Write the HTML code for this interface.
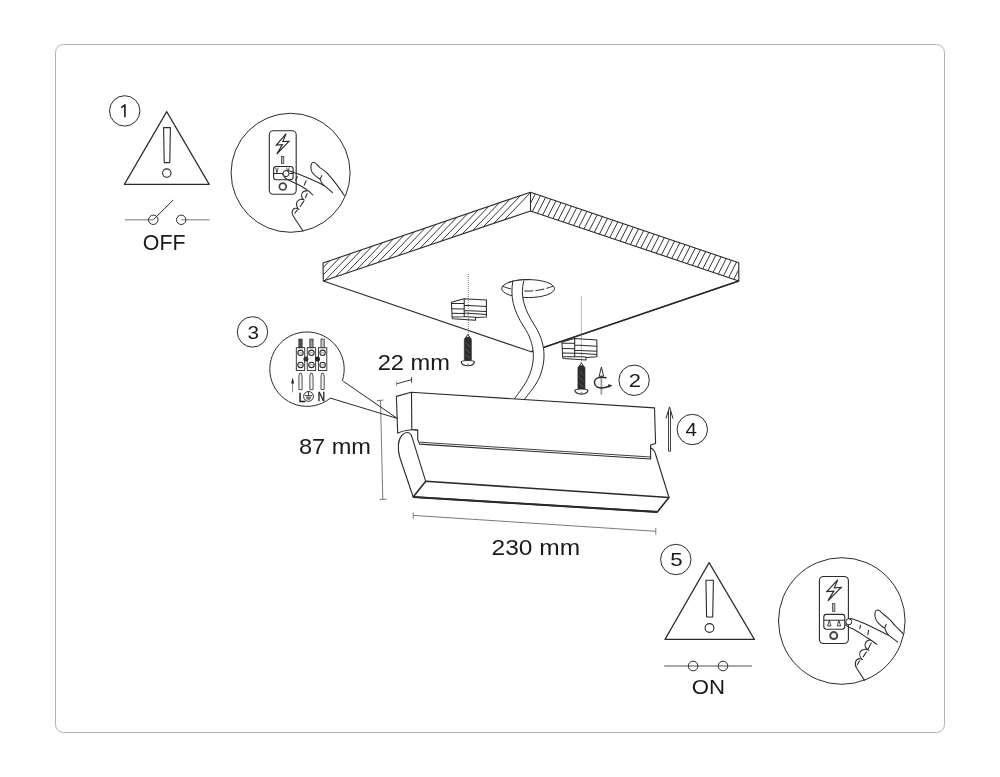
<!DOCTYPE html>
<html><head><meta charset="utf-8"><style>
html,body{margin:0;padding:0;background:#fff;}
svg{display:block;font-family:"Liberation Sans",sans-serif;will-change:transform;}
.t{stroke:none;}
</style></head><body>
<svg width="1000" height="777" viewBox="0 0 1000 777">
<rect width="1000" height="777" fill="#fff"/>
<rect x="55.5" y="44.5" width="889" height="688" rx="8" ry="8" fill="none" stroke="#b4b4b4" stroke-width="1"/>
<circle cx="124.7" cy="110.9" r="15.2" fill="none" stroke="#2a2a2a" stroke-width="1"/>
<path d="M124.9,117.3 L124.9,104.9 L121.2,107.6" fill="none" stroke="#1a1a1a" stroke-width="1.6" stroke-linejoin="round"/>
<circle cx="252.5" cy="331.9" r="15.2" fill="none" stroke="#2a2a2a" stroke-width="1"/>
<text x="253.2" y="338.5" text-anchor="middle" font-size="18.5" textLength="11.5" lengthAdjust="spacingAndGlyphs" fill="#1a1a1a" class="t">3</text>
<circle cx="634.1" cy="380.3" r="15.2" fill="none" stroke="#2a2a2a" stroke-width="1"/>
<text x="634.8" y="386.90000000000003" text-anchor="middle" font-size="18.5" textLength="12.2" lengthAdjust="spacingAndGlyphs" fill="#1a1a1a" class="t">2</text>
<circle cx="692.3" cy="429.5" r="15.2" fill="none" stroke="#2a2a2a" stroke-width="1"/>
<text x="691.2" y="436.1" text-anchor="middle" font-size="18.5" textLength="11.4" lengthAdjust="spacingAndGlyphs" fill="#1a1a1a" class="t">4</text>
<circle cx="675.8" cy="559.5" r="15.2" fill="none" stroke="#2a2a2a" stroke-width="1"/>
<text x="676.5" y="566.1" text-anchor="middle" font-size="18.5" textLength="12.4" lengthAdjust="spacingAndGlyphs" fill="#1a1a1a" class="t">5</text>
<path d="M166.7,111.6 L209.2,184.4 L124.4,184.4 Z" fill="none" stroke="#2a2a2a" stroke-width="1.2" stroke-linejoin="round"/>
<path d="M163.6,127.6 L170.4,127.6 L169.8,162.6 L164.2,162.6 Z" fill="none" stroke="#2a2a2a" stroke-width="1.1" stroke-linejoin="round"/>
<circle cx="166.8" cy="173.1" r="4.2" fill="none" stroke="#2a2a2a" stroke-width="1.1"/>
<path d="M709.1,562.6 L754.4,639.4 L665.0,639.4 Z" fill="none" stroke="#2a2a2a" stroke-width="1.2" stroke-linejoin="round"/>
<path d="M705.9,580.2 L713.4,580.2 L712.7,617.0 L706.6,617.0 Z" fill="none" stroke="#2a2a2a" stroke-width="1.1" stroke-linejoin="round"/>
<circle cx="709.5" cy="628.0" r="4.4" fill="none" stroke="#2a2a2a" stroke-width="1.1"/>
<line x1="125" y1="219.8" x2="153.3" y2="219.8" stroke="#8c8c8c" stroke-width="1.2"/>
<line x1="181.2" y1="219.8" x2="209.5" y2="219.8" stroke="#8c8c8c" stroke-width="1.2"/>
<line x1="153.3" y1="219.8" x2="173.2" y2="200" stroke="#2a2a2a" stroke-width="1"/>
<circle cx="153.3" cy="219.8" r="4.7" fill="none" stroke="#2a2a2a" stroke-width="1"/>
<circle cx="181.2" cy="219.8" r="4.7" fill="none" stroke="#2a2a2a" stroke-width="1"/>
<text x="142.8" y="249.5" font-size="21.5" textLength="42.7" lengthAdjust="spacingAndGlyphs" fill="#1a1a1a" class="t">OFF</text>
<line x1="664.2" y1="666" x2="752" y2="666" stroke="#8c8c8c" stroke-width="1.4"/>
<circle cx="693.1" cy="666" r="4.8" fill="none" stroke="#2a2a2a" stroke-width="1"/>
<circle cx="723" cy="666" r="4.8" fill="none" stroke="#2a2a2a" stroke-width="1"/>
<text x="691.8" y="694" font-size="20" textLength="33.3" lengthAdjust="spacingAndGlyphs" fill="#1a1a1a" class="t">ON</text>
<text x="377.7" y="369.8" font-size="22.3" textLength="72.2" lengthAdjust="spacingAndGlyphs" fill="#1a1a1a" class="t">22 mm</text>
<text x="298.9" y="454.1" font-size="22.3" textLength="72" lengthAdjust="spacingAndGlyphs" fill="#1a1a1a" class="t">87 mm</text>
<text x="491.6" y="554.8" font-size="22.3" textLength="88.5" lengthAdjust="spacingAndGlyphs" fill="#1a1a1a" class="t">230 mm</text>
<defs><clipPath id="cl"><path d="M323.0,263.0 L530.5,192.2 L530.5,211.0 L323.3,281.0 Z"/></clipPath><clipPath id="cr"><path d="M530.5,192.2 L738.8,262.8 L738.8,281.0 L530.5,211.0 Z"/></clipPath></defs>
<g clip-path="url(#cl)"><path d="M297.30,264.78 L247.30,316.78 M307.90,261.16 L257.90,313.16 M318.50,257.55 L268.50,309.55 M329.10,253.93 L279.10,305.93 M339.70,250.31 L289.70,302.31 M350.30,246.70 L300.30,298.70 M360.90,243.08 L310.90,295.08 M371.50,239.46 L321.50,291.46 M382.10,235.85 L332.10,287.85 M392.70,232.23 L342.70,284.23 M403.30,228.61 L353.30,280.61 M413.90,225.00 L363.90,277.00 M424.50,221.38 L374.50,273.38 M435.10,217.76 L385.10,269.76 M445.70,214.15 L395.70,266.15 M456.30,210.53 L406.30,262.53 M466.90,206.91 L416.90,258.91 M477.50,203.30 L427.50,255.30 M488.10,199.68 L438.10,251.68 M498.70,196.06 L448.70,248.06 M509.30,192.45 L459.30,244.45 M519.90,188.83 L469.90,240.83 M530.50,185.21 L480.50,237.21 M541.10,181.60 L491.10,233.60" stroke="#2a2a2a" stroke-width="0.95" fill="none"/></g>
<g clip-path="url(#cr)"><path d="M525.85,176.89 L499.85,227.59 M531.01,178.64 L505.01,229.34 M536.17,180.39 L510.17,231.09 M541.33,182.14 L515.33,232.84 M546.49,183.89 L520.49,234.59 M551.65,185.63 L525.65,236.33 M556.81,187.38 L530.81,238.08 M561.97,189.13 L535.97,239.83 M567.13,190.88 L541.13,241.58 M572.29,192.63 L546.29,243.33 M577.45,194.38 L551.45,245.08 M582.61,196.13 L556.61,246.83 M587.77,197.88 L561.77,248.58 M592.93,199.63 L566.93,250.33 M598.09,201.37 L572.09,252.07 M603.25,203.12 L577.25,253.82 M608.41,204.87 L582.41,255.57 M613.57,206.62 L587.57,257.32 M618.73,208.37 L592.73,259.07 M623.89,210.12 L597.89,260.82 M629.05,211.87 L603.05,262.57 M634.21,213.62 L608.21,264.32 M639.37,215.37 L613.37,266.07 M644.53,217.12 L618.53,267.82 M649.69,218.86 L623.69,269.56 M654.85,220.61 L628.85,271.31 M660.01,222.36 L634.01,273.06 M665.17,224.11 L639.17,274.81 M670.33,225.86 L644.33,276.56 M675.49,227.61 L649.49,278.31 M680.65,229.36 L654.65,280.06 M685.81,231.11 L659.81,281.81 M690.97,232.86 L664.97,283.56 M696.13,234.60 L670.13,285.30 M701.29,236.35 L675.29,287.05 M706.45,238.10 L680.45,288.80 M711.61,239.85 L685.61,290.55 M716.77,241.60 L690.77,292.30 M721.93,243.35 L695.93,294.05 M727.09,245.10 L701.09,295.80 M732.25,246.85 L706.25,297.55 M737.41,248.60 L711.41,299.30 M742.57,250.34 L716.57,301.04 M747.73,252.09 L721.73,302.79 M752.89,253.84 L726.89,304.54 M758.05,255.59 L732.05,306.29 M763.21,257.34 L737.21,308.04 M768.37,259.09 L742.37,309.79" stroke="#2a2a2a" stroke-width="0.95" fill="none"/></g>
<path d="M323.0,263.0 L530.5,192.2 L530.5,211.0 L323.3,281.0 Z" fill="none" stroke="#2a2a2a" stroke-width="1.1" stroke-linejoin="round"/>
<path d="M530.5,192.2 L738.8,262.8 L738.8,281.0 L530.5,211.0" fill="none" stroke="#2a2a2a" stroke-width="1.1" stroke-linejoin="round"/>
<path d="M323.3,281 L531,351.7 L738.8,281" fill="none" stroke="#2a2a2a" stroke-width="1.1"/>
<path d="M738.8,281 L531,351.7" fill="none" stroke="#2a2a2a" stroke-width="1.6"/>
<ellipse cx="528.1" cy="288.6" rx="26.4" ry="9" fill="#fff" stroke="#2a2a2a" stroke-width="1"/>
<path d="M502.5,286.2 Q527,296 553,286.2" fill="none" stroke="#2a2a2a" stroke-width="1" stroke-dasharray="9,2.2"/>
<path d="M513,280.6 C510,296 513,310 524,327 C536,345 535,362 529,376 C525,386 518,393 514.5,399 L524.7,399 C529,393 536,386 540,376 C546,360 546,344 535,326 C524,309 520,296 523.8,280.6 Z" fill="#fff" stroke="none"/>
<path d="M513,280.6 C510,296 513,310 524,327 C536,345 535,362 529,376 C525,386 518,393 514.5,399" fill="none" stroke="#2a2a2a" stroke-width="1"/>
<path d="M523.8,280.6 C520,296 524,309 535,326 C546,344 546,360 540,376 C536,386 529,393 524.7,399" fill="none" stroke="#2a2a2a" stroke-width="1"/>
<path d="M508,282.6 A26.4,9 0 0 1 530,279.6" fill="none" stroke="#2a2a2a" stroke-width="1"/>
<g stroke="#2a2a2a" stroke-width="1.05" stroke-linejoin="round"><path d="M451.4,302.2 L464,298.8 L486.4,300.1 L486.4,316.9 L475.5,317.6 L475.5,320.3 L452.8,318.8 L452.2,318 Z" fill="#fff"/><path d="M464.2,298.9 L464.2,316.7 M451.5,303.4 L464.2,303.3 M451.8,308.7 L464.2,308.9 M452,313.3 L464.2,313.4 M452.2,316.9 L464.2,316.8 M464.2,305.3 L486.4,306.4 M464.2,310.4 L486.4,311.4 M464.2,313.1 L486.4,314.6 M464.2,316.6 L475.5,317.3" fill="none"/></g>
<g transform="translate(110.5,39.8)" stroke="#2a2a2a" stroke-width="1.05" stroke-linejoin="round"><path d="M451.4,302.2 L464,298.8 L486.4,300.1 L486.4,316.9 L475.5,317.6 L475.5,320.3 L452.8,318.8 L452.2,318 Z" fill="#fff"/><path d="M464.2,298.9 L464.2,316.7 M451.5,303.4 L464.2,303.3 M451.8,308.7 L464.2,308.9 M452,313.3 L464.2,313.4 M452.2,316.9 L464.2,316.8 M464.2,305.3 L486.4,306.4 M464.2,310.4 L486.4,311.4 M464.2,313.1 L486.4,314.6 M464.2,316.6 L475.5,317.3" fill="none"/></g>
<line x1="468.3" y1="274" x2="468.3" y2="335" stroke="#555" stroke-width="0.8" stroke-dasharray="1,1"/>
<line x1="581.4" y1="296.4" x2="581.4" y2="363" stroke="#555" stroke-width="0.8" stroke-dasharray="1,1"/>
<path d="M464.3,360.6 L464.3,339.5 Q464.5,337.2 467.8,337 Q471.2,337.2 471.4,339.5 L471.4,360.6 Z" fill="#2e2e2e" stroke="#2a2a2a" stroke-width="0.6"/><path d="M466.2,343 L469.6,347 M466,349 L469.8,353 M466,355 L469.6,358.5" stroke="#666" stroke-width="0.8"/><path d="M465.9,337.3 L467.8,334.4 L469.7,337.3 Z" fill="#fff" stroke="#2a2a2a" stroke-width="0.9"/><path d="M461.2,361.8 C462,360.1 473.6,360.1 474.4,361.8 C474,364.6 470.6,365.7 467.8,365.7 C465,365.7 461.6,364.6 461.2,361.8 Z" fill="#fff" stroke="#2a2a2a" stroke-width="1.1"/><circle cx="467.9" cy="364.2" r="0.9" fill="#999"/>
<g transform="translate(113.6,28.4)"><path d="M464.3,360.6 L464.3,339.5 Q464.5,337.2 467.8,337 Q471.2,337.2 471.4,339.5 L471.4,360.6 Z" fill="#2e2e2e" stroke="#2a2a2a" stroke-width="0.6"/><path d="M466.2,343 L469.6,347 M466,349 L469.8,353 M466,355 L469.6,358.5" stroke="#666" stroke-width="0.8"/><path d="M465.9,337.3 L467.8,334.4 L469.7,337.3 Z" fill="#fff" stroke="#2a2a2a" stroke-width="0.9"/><path d="M461.2,361.8 C462,360.1 473.6,360.1 474.4,361.8 C474,364.6 470.6,365.7 467.8,365.7 C465,365.7 461.6,364.6 461.2,361.8 Z" fill="#fff" stroke="#2a2a2a" stroke-width="1.1"/><circle cx="467.9" cy="364.2" r="0.9" fill="#999"/></g>
<line x1="601.4" y1="373.5" x2="601.4" y2="394.5" stroke="#999" stroke-width="1.8"/>
<path d="M599.2,376.2 L601.4,367 L603.6,376.2 Z" fill="#fff" stroke="#2a2a2a" stroke-width="1"/>
<path d="M606.5,377.8 C603,377 599,376.8 596.5,378.5 C593.5,380.5 593.8,385 597,386.8 C600,388.5 605,388 609,386.3" fill="none" stroke="#2a2a2a" stroke-width="1.5"/>
<path d="M608,384.2 L612.4,385.2 L608.8,387.8 Z" fill="#2a2a2a"/>
<path d="M668.5,451.2 L668.5,411 M670.5,451.2 L670.5,411 M668.5,451.2 L670.5,451.2" fill="none" stroke="#2a2a2a" stroke-width="0.9"/>
<path d="M666,418.5 L669.5,406.9 L673,418.5" fill="none" stroke="#2a2a2a" stroke-width="1"/>
<path d="M409.3,432.9 C404,431 399,437 398.4,444.5 C398,450 399,455 400,458 L413.2,497 L657.3,511.9 L669,497.5 L652.1,448 L412.5,438.7 Z" fill="#fff" stroke="none"/>
<path d="M409.3,432.9 C404,431 399,437 398.4,444.5 C398,450 399,455 400,458 L413.2,497" fill="none" stroke="#2a2a2a" stroke-width="1.1"/>
<path d="M409.3,432.9 C411,434 412,436 412.5,438.7 L425.7,481.3" fill="none" stroke="#2a2a2a" stroke-width="1.1"/>
<path d="M650.6,447.7 C653,449 655,451.5 655.5,454 L669,497.5" fill="none" stroke="#2a2a2a" stroke-width="1.1"/>
<path d="M425.7,481.3 L669,497.5 L657.3,511.9 L413.2,497 Z" fill="none" stroke="#2a2a2a" stroke-width="1.6" stroke-linejoin="round"/>
<path d="M413.2,497 L657.3,511.9" fill="none" stroke="#2a2a2a" stroke-width="2"/>
<path d="M396.4,396.4 L411.2,392.3 L654.5,407.9 L655.6,443.5 L650.6,445.1 L650.6,459 L419.6,444.1 L417.7,439.3 L417.7,429.7 L412.2,429.7 C407,430 402,431 397.7,433.2 Z" fill="#fff" stroke="#2a2a2a" stroke-width="1.1" stroke-linejoin="round"/>
<line x1="411.5" y1="392.4" x2="411.8" y2="429.7" stroke="#2a2a2a" stroke-width="1.1"/>
<path d="M419.6,442.2 L650.6,457" fill="none" stroke="#2a2a2a" stroke-width="0.9"/>
<path d="M412.2,429.7 C416,430 417.7,431 417.7,431" fill="none" stroke="#2a2a2a" stroke-width="0.8"/>
<path d="M380.5,400.4 L382.8,499.4 M376.8,400.9 L383.4,400 M379.8,499.5 L386.6,499.2" fill="none" stroke="#7a7a7a" stroke-width="1"/>
<path d="M413.2,515.4 L655.8,531.3 M413.2,512.5 L413.2,518.8 M655.8,527.8 L655.8,534.5" fill="none" stroke="#7a7a7a" stroke-width="1"/>
<path d="M396.6,383.8 L411.6,379.6 M411.6,377.2 L411.6,382.6" fill="none" stroke="#3a3a3a" stroke-width="1"/>
<path d="M396.6,381.2 L396.6,386.2" fill="none" stroke="#999" stroke-width="1"/>
<path d="M342.3,380.9 A37.2,37.2 0 1 0 330,398.4" fill="none" stroke="#2a2a2a" stroke-width="1"/>
<path d="M343.2,381.2 L397.2,418.4 L330,398" fill="none" stroke="#2a2a2a" stroke-width="1"/>
<circle cx="290.6" cy="172.8" r="59.5" fill="none" stroke="#2a2a2a" stroke-width="1"/>
<rect x="269.3" y="130.8" width="26.9" height="63.5" rx="4" fill="none" stroke="#2a2a2a" stroke-width="1.1"/>
<path d="M286.2,133.6 L276.3,145.1 L282.4,144.6 L276.8,154.1 L288.9,141.3 L282.8,141.6 Z" fill="none" stroke="#2a2a2a" stroke-width="1.15" stroke-linejoin="miter"/>
<rect x="281.4" y="156.5" width="2.4" height="7" fill="#bbb" stroke="#2a2a2a" stroke-width="0.7"/>
<rect x="273.6" y="166.5" width="19.5" height="13.3" rx="2.5" fill="none" stroke="#2a2a2a" stroke-width="1.1"/>
<line x1="273.6" y1="173.5" x2="293.1" y2="173.5" stroke="#2a2a2a" stroke-width="1"/>
<path d="M275.6,167.5 L276.9,172.8 L278.2,167.5 M286.6,167.5 L287.9,172.8 L289.2,167.5" fill="none" stroke="#2a2a2a" stroke-width="0.8"/>
<circle cx="282.8" cy="186.5" r="3.45" fill="none" stroke="#444" stroke-width="1.7"/>
<path d="M283,174.5 C283.5,171 286,169.8 289,170.7 L294,172.6 C298,174 301.5,175.3 305,176.7 C311,179.3 318,182.3 324.4,185.7 L332.5,192.6" fill="none" stroke="#2a2a2a" stroke-width="1.05" stroke-linecap="round" stroke-linejoin="round"/>
<path d="M283,174.5 C284,177.5 286,179 289,180.3 L298.5,184.8 C303.5,187.3 308.5,190.5 312.8,195" fill="none" stroke="#2a2a2a" stroke-width="1.05" stroke-linecap="round" stroke-linejoin="round"/>
<circle cx="286" cy="173.6" r="3" fill="#fff" stroke="#2a2a2a" stroke-width="1"/>
<path d="M297.4,176.6 L295.6,180.2 M306.1,180.8 L304.3,185" fill="none" stroke="#2a2a2a" stroke-width="1.05" stroke-linecap="round" stroke-linejoin="round" stroke-width="1.3"/>
<path d="M344.4,195.5 C341,190.5 337.5,185.5 334,181.1 C331,177.5 328.5,174.5 326.4,172.4 C323.5,169.8 321.5,168.5 319.5,167.4 C317.5,165.5 316.5,163.8 315.4,163.1 C314,162 312.3,162.3 311.6,163.5 C310.6,165.5 310.8,168 311.1,169.5 C311.5,171.5 312,172.5 313.1,173.5 C314.5,175.2 316.5,177 319.8,179" fill="none" stroke="#2a2a2a" stroke-width="1.05" stroke-linecap="round" stroke-linejoin="round"/>
<path d="M321.8,175.6 L320.1,179.3 C321,181 321.5,182.8 322.4,184 C323,185 323.7,185.3 324.4,185.7" fill="none" stroke="#2a2a2a" stroke-width="1.05" stroke-linecap="round" stroke-linejoin="round"/>
<path d="M306.9,191.1 C304.5,190.3 302.2,191.8 301.6,194.5 C301.2,197 302.5,199 304.3,200.1 C301.8,198.3 298.3,199.5 297,202 C296,204.5 297,207.5 298.8,209.5 C296.5,207.3 293.5,208.3 292.5,210.5 C291.8,212.5 292,214 292.7,215.2 L303,231" fill="none" stroke="#2a2a2a" stroke-width="1.05" stroke-linecap="round" stroke-linejoin="round"/>
<path d="M307.2,193.8 L305.4,197.8 M303.7,201.4 L300.2,206.5 M297.2,210.1 L294.8,213.3" fill="none" stroke="#2a2a2a" stroke-width="1.05" stroke-linecap="round" stroke-linejoin="round" stroke-width="1.2"/>
<circle cx="841.8" cy="621" r="63.3" fill="none" stroke="#2a2a2a" stroke-width="1"/>
<rect x="819.4" y="576.5" width="29" height="67" rx="4.2" fill="none" stroke="#2a2a2a" stroke-width="1.1"/>
<path d="M837.7,579.8 L826.8,591.6 L833.8,591.1 L827.9,600.9 L841.3,587.5 L834.3,587.8 Z" fill="none" stroke="#2a2a2a" stroke-width="1.15" stroke-linejoin="miter"/>
<rect x="832.6" y="603.7" width="2.3" height="7.6" fill="#bbb" stroke="#2a2a2a" stroke-width="0.7"/>
<rect x="823.8" y="614.4" width="21" height="14.8" rx="2.6" fill="none" stroke="#2a2a2a" stroke-width="1.1"/>
<line x1="823.8" y1="620.2" x2="844.8" y2="620.2" stroke="#2a2a2a" stroke-width="1"/>
<path d="M829.3,620.4 L827.6,625.9 L831,625.9 Z M838.9,620.4 L837.2,625.9 L840.6,625.9 Z" fill="none" stroke="#2a2a2a" stroke-width="0.9" stroke-linejoin="round"/>
<circle cx="833.7" cy="635.6" r="3.5" fill="none" stroke="#444" stroke-width="2"/>
<path d="M846,625 C846,620.5 848,618.2 851,618.6 C856,620 860.5,621.8 865,623.8 C873,627.5 881,631.5 888.4,635.1 L897.8,642.2" fill="none" stroke="#2a2a2a" stroke-width="1.05" stroke-linecap="round" stroke-linejoin="round"/>
<path d="M846,625 C847,626.5 849,627.5 852,628.5 C856.5,630.8 861,633.5 865,636.4 C869,639 873,641.5 876.9,644.4" fill="none" stroke="#2a2a2a" stroke-width="1.05" stroke-linecap="round" stroke-linejoin="round"/>
<circle cx="848.8" cy="621.8" r="3" fill="#fff" stroke="#2a2a2a" stroke-width="1"/>
<path d="M860.6,625.2 L859.8,628.6 M868.6,630.2 L867.8,634.8" fill="none" stroke="#2a2a2a" stroke-width="1.05" stroke-linecap="round" stroke-linejoin="round" stroke-width="1.3"/>
<path d="M903.3,634.1 C900,630.5 898,628.2 895.3,625.8 C893,623.5 891.5,621 889.5,619.3 C887,617 885.5,615.8 883.7,614.5 C881.5,612.8 880.2,610.8 878.8,610.3 C877.3,609.7 875.8,610.4 875.3,611.6 C874.8,613.5 874.8,615.5 875,616.7 C875.5,618.8 876,620 876.9,621.2 C878,622.8 879.5,624.2 880.5,625.1 C881.7,626.3 883,627.2 884.5,627.9" fill="none" stroke="#2a2a2a" stroke-width="1.05" stroke-linecap="round" stroke-linejoin="round"/>
<path d="M886.2,624.3 L884.8,627.7 C885,628.8 885.2,629.5 885.6,630.2 C886.5,632.3 887.3,633.8 888.4,635.1" fill="none" stroke="#2a2a2a" stroke-width="1.05" stroke-linecap="round" stroke-linejoin="round"/>
<path d="M870.6,640.1 C868,639.6 865.6,641.6 865.1,644 C864.8,646.5 866.5,649 868.7,650.4 C866,648.3 861.8,649.5 860.3,651.6 C859,654 859.8,657.5 862.5,659.8 C860,657.8 857,659 856,660.8 C855,663 855.3,666 856.4,667.8 L864.5,680.4" fill="none" stroke="#2a2a2a" stroke-width="1.05" stroke-linecap="round" stroke-linejoin="round"/>
<path d="M871.2,643 L868.3,648.8 M866.4,651.7 L863.2,656.9 M859.7,660.7 L857.4,664.6" fill="none" stroke="#2a2a2a" stroke-width="1.05" stroke-linecap="round" stroke-linejoin="round" stroke-width="1.2"/>
<rect x="296.3" y="347.7" width="8.4" height="22.8" fill="#fff" stroke="#2a2a2a" stroke-width="0.9"/>
<circle cx="300.5" cy="352.8" r="2.7" fill="none" stroke="#2a2a2a" stroke-width="1.1"/>
<circle cx="300.5" cy="364.9" r="2.7" fill="none" stroke="#2a2a2a" stroke-width="1.1"/>
<path d="M299.1,352.8 L301.9,352.8 M299.1,364.9 L301.9,364.9" stroke="#666" stroke-width="0.7"/>
<rect x="298.9" y="339.1" width="3.2" height="8.6" fill="#555" stroke="#2a2a2a" stroke-width="0.8"/>
<path d="M298.9,389.6 L298.9,376 L299.7,373.2 L301.3,373.2 L302.1,376 L302.1,389.6 Z" fill="#f2f2f2" stroke="#2a2a2a" stroke-width="0.8"/>
<rect x="307.25" y="347.7" width="8.4" height="22.8" fill="#fff" stroke="#2a2a2a" stroke-width="0.9"/>
<circle cx="311.45" cy="352.8" r="2.7" fill="none" stroke="#2a2a2a" stroke-width="1.1"/>
<circle cx="311.45" cy="364.9" r="2.7" fill="none" stroke="#2a2a2a" stroke-width="1.1"/>
<path d="M310.05,352.8 L312.84999999999997,352.8 M310.05,364.9 L312.84999999999997,364.9" stroke="#666" stroke-width="0.7"/>
<rect x="309.84999999999997" y="339.1" width="3.2" height="8.6" fill="#999" stroke="#2a2a2a" stroke-width="0.8"/>
<path d="M309.84999999999997,389.6 L309.84999999999997,376 L310.65,373.2 L312.25,373.2 L313.05,376 L313.05,389.6 Z" fill="#f2f2f2" stroke="#2a2a2a" stroke-width="0.8"/>
<rect x="318.40000000000003" y="347.7" width="8.4" height="22.8" fill="#fff" stroke="#2a2a2a" stroke-width="0.9"/>
<circle cx="322.6" cy="352.8" r="2.7" fill="none" stroke="#2a2a2a" stroke-width="1.1"/>
<circle cx="322.6" cy="364.9" r="2.7" fill="none" stroke="#2a2a2a" stroke-width="1.1"/>
<path d="M321.20000000000005,352.8 L324.0,352.8 M321.20000000000005,364.9 L324.0,364.9" stroke="#666" stroke-width="0.7"/>
<rect x="321.0" y="339.1" width="3.2" height="8.6" fill="#ccc" stroke="#2a2a2a" stroke-width="0.8"/>
<path d="M321.0,389.6 L321.0,376 L321.8,373.2 L323.40000000000003,373.2 L324.20000000000005,376 L324.20000000000005,389.6 Z" fill="#f2f2f2" stroke="#2a2a2a" stroke-width="0.8"/>
<circle cx="305.9" cy="358.9" r="2.5" fill="#333"/>
<circle cx="317.5" cy="358.9" r="2.5" fill="#222"/>
<line x1="292.6" y1="383" x2="292.6" y2="392.3" stroke="#888" stroke-width="1"/>
<path d="M291.1,383.6 L292.6,377.4 L294.1,383.6 Z" fill="#222"/>
<text x="298.6" y="401.8" font-size="12.6" fill="#1a1a1a" stroke="#1a1a1a" stroke-width="0.35">L</text>
<text x="317.8" y="401.2" font-size="12.3" textLength="7.2" lengthAdjust="spacingAndGlyphs" fill="#1a1a1a" stroke="#1a1a1a" stroke-width="0.45">N</text>
<circle cx="308.5" cy="396.4" r="4.9" fill="none" stroke="#2a2a2a" stroke-width="1"/>
<path d="M308.5,391.6 L308.5,395.4 M304.8,395.6 L312.2,395.6" stroke="#2a2a2a" stroke-width="0.9"/>
<path d="M305.6,396.6 L311.4,396.6 L310.2,399.8 L306.8,399.8 Z" fill="#777" stroke="none"/>
</svg></body></html>
